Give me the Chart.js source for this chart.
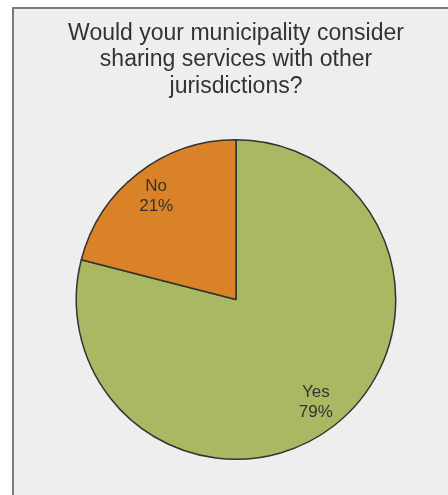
<!DOCTYPE html>
<html>
<head>
<meta charset="utf-8">
<script src="https://cdn.jsdelivr.net/npm/chart.js@4"></script>
<style>
  html, body { margin: 0; padding: 0; background: #ffffff; }
  #wrap { position: relative; width: 448px; height: 495px; }
  #panel {
    position: absolute; left: 12px; top: 7px; right: 0; bottom: 0;
    background: #eeeeee;
    border-left: 2px solid #7a7a7a;
    border-top: 2px solid #7a7a7a;
  }
  canvas { position: absolute; left: 0; top: 0; }
</style>
</head>
<body>
<div id="wrap">
  <div id="panel"></div>
  <canvas id="chart" width="448" height="495"></canvas>
</div>
<script>
const titleLines = ['Would your municipality consider', 'sharing services with other', 'jurisdictions?'];
const categories = ['Yes', 'No'];
const shares = [79, 21];
const sliceColors = ['#a9b862', '#d98228'];

// Writes "category / percent" inside each slice at its mid-angle
const sliceLabels = {
  id: 'sliceLabels',
  afterDatasetsDraw(chart) {
    const ctx = chart.ctx;
    const meta = chart.getDatasetMeta(0);
    ctx.save();
    ctx.font = '17px "Liberation Sans", Arial, sans-serif';
    ctx.fillStyle = '#333333';
    ctx.textAlign = 'center';
    ctx.textBaseline = 'middle';
    meta.data.forEach((arc, i) => {
      const p = arc.getProps(['x', 'y', 'startAngle', 'endAngle', 'outerRadius'], true);
      const mid = (p.startAngle + p.endAngle) / 2;
      const r = p.outerRadius * 0.815;
      const cx = p.x + Math.cos(mid) * r;
      const cy = p.y + Math.sin(mid) * r;
      ctx.fillText(categories[i], cx, cy - 10);
      ctx.fillText(shares[i] + '%', cx, cy + 10);
    });
    ctx.restore();
  }
};

new Chart(document.getElementById('chart'), {
  type: 'pie',
  data: {
    labels: categories,
    datasets: [{
      data: shares,
      backgroundColor: sliceColors,
      borderColor: '#333333',
      borderWidth: 1.5
    }]
  },
  options: {
    responsive: false,
    animation: false,
    layout: { padding: { left: 24, right: 0, top: 0, bottom: 35 } },
    plugins: {
      legend: { display: false },
      tooltip: { enabled: false },
      title: {
        display: true,
        text: titleLines,
        color: '#333333',
        font: { family: '"Liberation Sans", Arial, sans-serif', size: 23, weight: 'normal', lineHeight: 1.16 },
        padding: { top: 20, bottom: 39 }
      }
    }
  },
  plugins: [sliceLabels]
});
</script>
</body>
</html>
